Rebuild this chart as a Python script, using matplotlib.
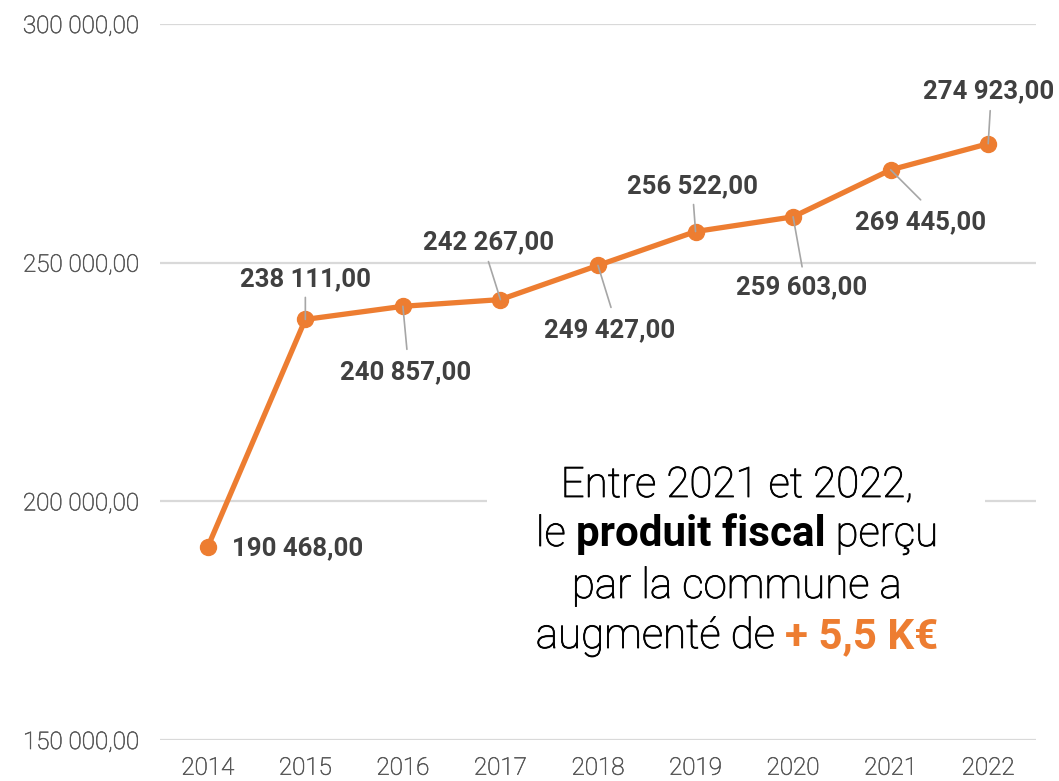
import matplotlib
matplotlib.use("Agg")
import matplotlib.pyplot as plt
from matplotlib.patches import Rectangle
import matplotlib.patheffects as pe

# ---- data ----
years = ["2014", "2015", "2016", "2017", "2018", "2019", "2020", "2021", "2022"]
values = [190468, 238111, 240857, 242267, 249427, 256522, 259603, 269445, 274923]
labels = ["190 468,00", "238 111,00", "240 857,00", "242 267,00", "249 427,00",
          "256 522,00", "259 603,00", "269 445,00", "274 923,00"]
yticks = [150000, 200000, 250000, 300000]
ytick_labels = ["150 000,00", "200 000,00", "250 000,00", "300 000,00"]

# label placement (pixel offsets from point: dx right, dy down), leader end offsets
label_offsets = [(24, 1), (0, -40), (3, 66), (-12, -57), (12, 65), (-3, -45), (9, 70), (30, 52), (0, -52)]
leader_ends = [None, (0, -22), (4, 43), (-12, -38), (13, 42), (-2, -27), (9, 50), (30, 30), (2, -33)]

ORANGE = "#ED7D31"
FONT = "Roboto"
LIGHT = "light"

fig = plt.figure(figsize=(10.59, 7.81), dpi=100)
W, H = 1059, 781
ax = fig.add_axes([160 / W, 1 - 740 / H, (1036 - 160) / W, (740 - 24) / H])

x = list(range(len(years)))
ax.plot(x, values, color=ORANGE, lw=3.8, marker="o", ms=11.5, zorder=3,
        solid_capstyle="round", solid_joinstyle="round")

ax.set_xlim(-0.49, len(years) - 1 + 0.49)
ax.set_ylim(150000, 300000)
ax.set_yticks(yticks)
ax.set_yticklabels(ytick_labels)
ax.set_xticks(x)
ax.set_xticklabels(years)
for s in ax.spines.values():
    s.set_visible(False)
ax.tick_params(length=0, labelsize=17.4, labelcolor="#595959")
ax.tick_params(axis="y", pad=15)
ax.tick_params(axis="x", pad=12)
tick_fx = [pe.withStroke(linewidth=0.45, foreground="#595959")]
for t in ax.get_xticklabels() + ax.get_yticklabels():
    t.set_fontfamily(FONT)
    t.set_fontweight(LIGHT)
    t.set_path_effects(tick_fx)
ax.grid(axis="y", color="#D9D9D9", lw=1.6)
ax.set_axisbelow(True)

# data labels
for i, (xi, v) in enumerate(zip(x, values)):
    dx, dy = label_offsets[i]
    ha = "left" if i == 0 else "center"
    ax.annotate(labels[i], (xi, v), xytext=(dx, -dy), textcoords="offset pixels",
                ha=ha, va="center", fontsize=18.5, fontweight="bold",
                color="#404040", family=FONT, zorder=5)
    if leader_ends[i] is not None:
        lx, ly = leader_ends[i]
        ax.annotate("", (xi, v), xytext=(lx, -ly), textcoords="offset pixels",
                    arrowprops=dict(arrowstyle="-", color="#A6A6A6", lw=1.2,
                                    shrinkA=0, shrinkB=0), zorder=4)

# white box behind the annotation text
ax.add_patch(Rectangle((487 / W, 1 - 670 / H), (985 - 487) / W, (670 - 455) / H,
                       transform=fig.transFigure, facecolor="white", edgecolor="none",
                       zorder=1.5))

# multi-style centred text
lines = [
    [("Entre 2021 et 2022,", LIGHT, "#000000")],
    [("le", LIGHT, "#000000"), ("produit fiscal", "bold", "#000000"), ("perçu", LIGHT, "#000000")],
    [("par la commune a", LIGHT, "#000000")],
    [("augmenté de", LIGHT, "#000000"), ("+ 5,5 K€", "bold", ORANGE)],
]
baselines = [497, 546, 598, 648]
center_x = 737
fs = 30.3
renderer = fig.canvas.get_renderer()

def width_of(s, weight):
    t = fig.text(0, 0, s, fontsize=fs, fontweight=weight, family=FONT)
    w = t.get_window_extent(renderer).width
    t.remove()
    return w

space_w = width_of("x x", LIGHT) - width_of("xx", LIGHT)
for pieces, base in zip(lines, baselines):
    widths = [width_of(s, w) for s, w, c in pieces]
    total = sum(widths) + space_w * (len(pieces) - 1)
    cx = center_x - total / 2
    for (s, w, c), wd in zip(pieces, widths):
        fx = [pe.withStroke(linewidth=0.6, foreground=c)] if w == LIGHT else None
        fig.text(cx / W, 1 - base / H, s, fontsize=fs, fontweight=w, family=FONT,
                 color=c, ha="left", va="baseline", zorder=6, path_effects=fx)
        cx += wd + space_w

fig.savefig("out.png", dpi=100, facecolor="white")
